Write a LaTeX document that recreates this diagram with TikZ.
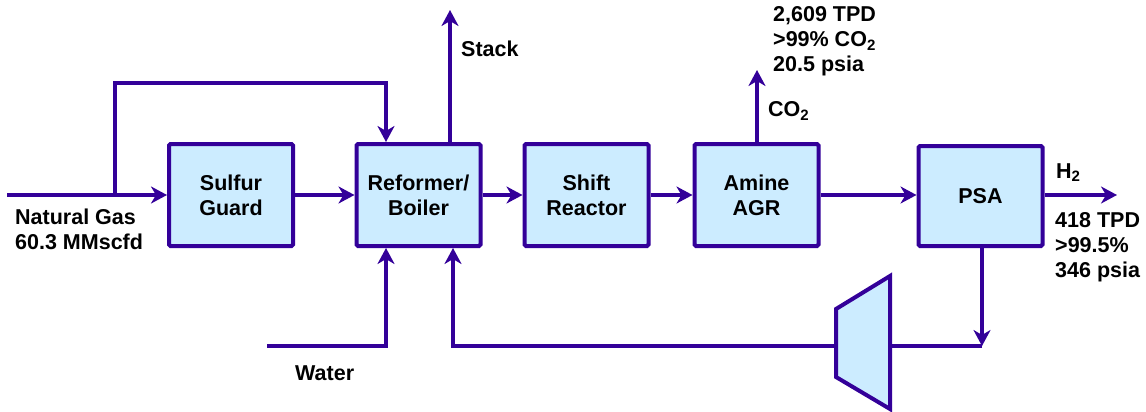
\documentclass[tikz,border=0pt]{standalone}
\usepackage{fontspec}
\setmainfont{Liberation Sans}
\usetikzlibrary{arrows.meta}
\definecolor{lc}{RGB}{51,0,153}
\definecolor{bf}{RGB}{204,236,255}
\tikzset{
  blk/.style={draw=lc, fill=bf, line width=4pt, rounded corners=1.5pt, minimum width=124pt, minimum height=102pt, align=center, inner sep=0pt, font=\fontsize{21.5}{25}\selectfont\bfseries},
  flow/.style={draw=lc, line width=4pt, -{Stealth[length=16pt,width=17pt,inset=5pt]}},
  pipe/.style={draw=lc, line width=4pt},
  lbl/.style={inner sep=0pt, anchor=base west, font=\fontsize{21.5}{25}\selectfont\bfseries},
}
\begin{document}
\begin{tikzpicture}[x=1pt,y=-1pt]
\useasboundingbox (0,0) rectangle (1146,412);
% blocks
\node[blk] (sg) at (231,195) {Sulfur\\Guard};
\node[blk] (ref) at (418.5,195) {Reformer/\\Boiler};
\node[blk] (shift) at (586.5,195) {Shift\\Reactor};
\node[blk] (amine) at (756.5,195) {Amine\\AGR};
\node[blk, minimum height=100pt] (psa) at (980.5,196) {PSA};
% coordinates
\coordinate (ng) at (7,195);
\coordinate (byp) at (115,195);
\coordinate (bypc) at (386,83);
\coordinate (stackend) at (450,10);
\coordinate (stackx) at (450,0);
\coordinate (co2end) at (757,70);
\coordinate (co2x) at (757,0);
\coordinate (mainy) at (0,195);
\coordinate (h2end) at (1117,195);
\coordinate (water) at (267,346);
\coordinate (waterx) at (386,0);
\coordinate (rcx) at (982,0);
\coordinate (rc) at (982,346);
\coordinate (cin) at (890,346);
\coordinate (cout) at (836,346);
\coordinate (rcl) at (453,346);
% compressor
\draw[draw=lc, fill=bf, line width=4pt, line join=miter] (836,309) -- (890,276) -- (890,409) -- (836,377) -- cycle;
% connectors
\draw[flow] (ng) -- (sg.west);
\draw[flow] (byp) |- (bypc) -- (bypc|-ref.north);
\draw[flow] (sg.east) -- (ref.west);
\draw[flow] (ref.east) -- (shift.west);
\draw[flow] (shift.east) -- (amine.west);
\draw[flow] (amine.east) -- (psa.west|-mainy);
\draw[flow] (psa.east|-mainy) -- (h2end);
\draw[flow] (stackx|-ref.north) -- (stackend);
\draw[flow] (co2x|-amine.north) -- (co2end);
\draw[flow] (water) -| (waterx|-ref.south);
\draw[flow] (rcx|-psa.south) -- (rc);
\draw[pipe] (rc) -- (cin);
\draw[flow] (cout) -- (rcl) -- (rcl|-ref.south);
% labels
\node[lbl] (l-ng1) at (15,224) {Natural Gas};
\node[lbl] (l-ng2) at (15,249) {60.3 MMscfd};
\node[lbl] (l-stack) at (461,57) {Stack};
\node[lbl] (l-co2) at (768,117) {CO\textsubscript{2}};
\node[lbl] (l-t1) at (773,22) {2,609 TPD};
\node[lbl] (l-t2) at (773,47) {>99\% CO\textsubscript{2}};
\node[lbl] (l-t3) at (773,72) {20.5 psia};
\node[lbl] (l-h2) at (1056,178) {H\textsubscript{2}};
\node[lbl] (l-p1) at (1055,227) {418 TPD};
\node[lbl] (l-p2) at (1055,252) {>99.5\%};
\node[lbl] (l-p3) at (1055,277) {346 psia};
\node[lbl] (l-water) at (295,380) {Water};
\end{tikzpicture}
\end{document}
